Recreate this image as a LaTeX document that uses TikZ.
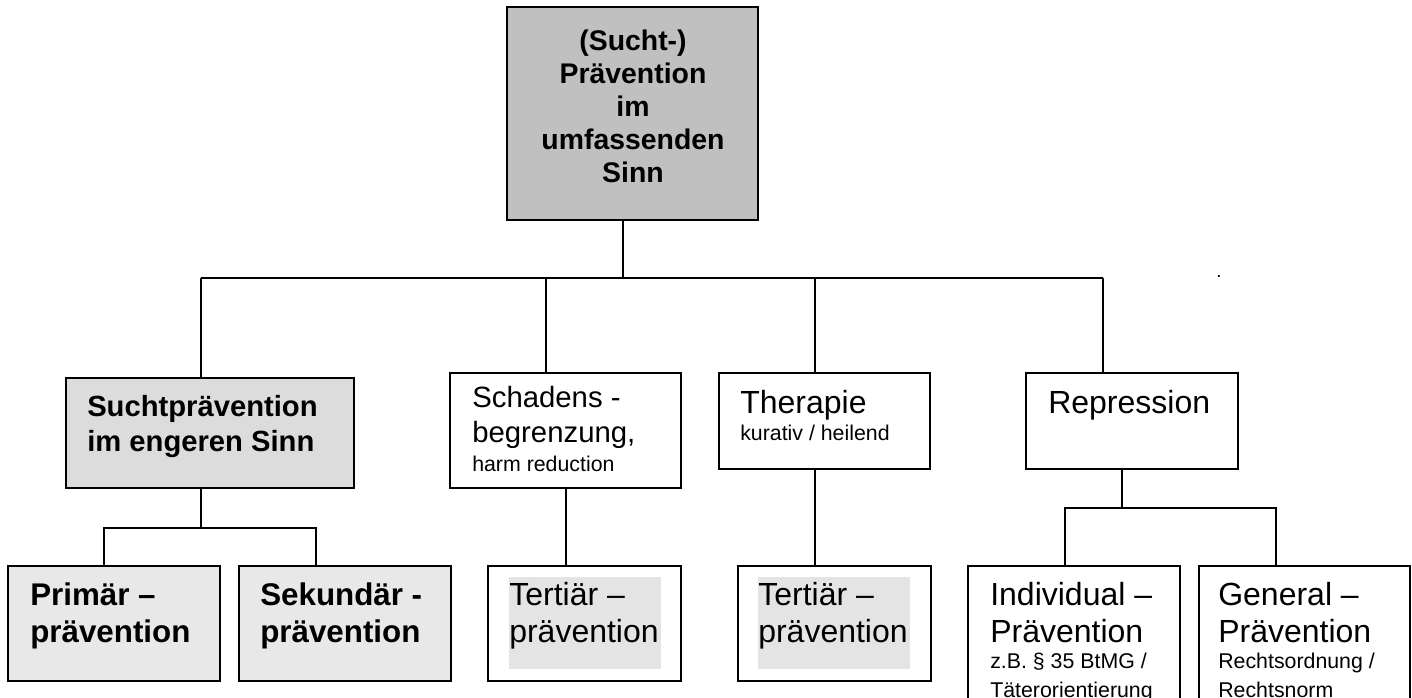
\documentclass[tikz,border=0pt]{standalone}
\usepackage{fontspec}
\setmainfont{Liberation Sans}
\usetikzlibrary{fit}
\definecolor{topgray}{RGB}{192,192,192}
\definecolor{midgray}{RGB}{220,220,220}
\definecolor{lowgray}{RGB}{232,232,232}
\definecolor{markgray}{RGB}{228,228,228}
\newcommand\klein{\fontsize{16}{19}\selectfont}
\begin{document}
\begin{tikzpicture}[x=0.75pt, y=-0.75pt,
  box/.style={draw, line width=1.5pt, inner sep=0pt},
  conn/.style={line width=1.2pt},
  txt/.style={anchor=north west, inner sep=0pt, align=left},
  big/.style={font=\fontsize{24}{28}\selectfont},
  bigbold/.style={font=\bfseries\fontsize{23.5}{28}\selectfont}]
\clip (0,0) rectangle (1412,697);

\node[box, fill=topgray, fit={(507,7) (758,220)}] (praev) {};
\node[box, fill=midgray, fit={(66,378) (354,488)}] (sucht) {};
\node[box, fit={(450,373) (681,488)}] (schaden) {};
\node[box, fit={(719,373) (930,469)}] (therapie) {};
\node[box, fit={(1026,373) (1238,469)}] (repress) {};
\node[box, fill=lowgray, fit={(8,566) (220,681)}] (primaer) {};
\node[box, fill=lowgray, fit={(239,566) (451,681)}] (sekundaer) {};
\node[box, fit={(488,566) (681,681)}] (tertA) {};
\node[box, fit={(738,566) (931,681)}] (tertB) {};
\node[box, fit={(968,566) (1180,720)}] (indiv) {};
\node[box, fit={(1199,566) (1410,720)}] (general) {};

\fill[markgray] (509,577) rectangle (661,669);
\fill[markgray] (758,577) rectangle (910,669);

\node[anchor=north, inner sep=0pt, align=center, font=\bfseries\fontsize{21.3}{24.75}\selectfont] (praevtxt) at (633,29.3) {(Sucht-)\\Prävention\\im\\umfassenden\\Sinn};
\node[txt, font=\bfseries\fontsize{21.9}{26.25}\selectfont] (suchttxt) at (87,395) {Suchtprävention\\im engeren Sinn};
\node[txt, font=\fontsize{22}{26.25}\selectfont] (schadentxt) at (472,386) {Schadens -\\begrenzung,\\[-4.5pt]{\klein harm reduction}};
\node[txt, big] (therapietxt) at (740,390) {Therapie\\[-7.75pt]{\klein kurativ / heilend}};
\node[txt, big] (represstxt) at (1048,390) {Repression};
\node[txt, bigbold] (primaertxt) at (30,582.5) {Primär –\\prävention};
\node[txt, bigbold] (sekundaertxt) at (260,582.5) {Sekundär -\\prävention};
\node[txt, big] (tertAtxt) at (509,582) {Tertiär –\\prävention};
\node[txt, big] (tertBtxt) at (758,582) {Tertiär –\\prävention};
\node[txt, big] (indivtxt) at (990,582) {Individual –\\Prävention\\[-8.5pt]{\klein z.B. § 35 BtMG /}\\[-6.25pt]{\klein Täterorientierung}};
\node[txt, big] (generaltxt) at (1218,582) {General –\\Prävention\\[-8.5pt]{\klein Rechtsordnung /}\\[-6.25pt]{\klein Rechtsnorm}};
\node[inner sep=0pt, font=\fontsize{14}{16}\selectfont] (stray) at (1219,276) {.};

\coordinate (busA) at (201,278);
\coordinate (busB) at (546,278);
\coordinate (busC) at (623,278);
\coordinate (busD) at (815,278);
\coordinate (busE) at (1103,278);
\coordinate (forkS) at (201,528);
\coordinate (forkP) at (104,528);
\coordinate (forkK) at (316,528);
\coordinate (forkT) at (566,528);
\coordinate (forkR) at (1122,508);
\coordinate (forkI) at (1065,508);
\coordinate (forkG) at (1276,508);

\draw[conn] (praev.south -| busC) -- (busC);
\draw[conn] (busA) -- (busE);
\draw[conn] (busA) -- (busA |- sucht.north);
\draw[conn] (busB) -- (busB |- schaden.north);
\draw[conn] (busD) -- (busD |- therapie.north);
\draw[conn] (busE) -- (busE |- repress.north);

\draw[conn] (sucht.south -| forkS) -- (forkS);
\draw[conn] (forkP |- primaer.north) -- (forkP) -- (forkK) -- (forkK |- sekundaer.north);
\draw[conn] (schaden.south -| forkT) -- (tertA.north -| forkT);
\draw[conn] (therapie.south -| busD) -- (tertB.north -| busD);
\draw[conn] (repress.south -| forkR) -- (forkR);
\draw[conn] (forkI |- indiv.north) -- (forkI) -- (forkG) -- (forkG |- general.north);
\end{tikzpicture}
\end{document}
